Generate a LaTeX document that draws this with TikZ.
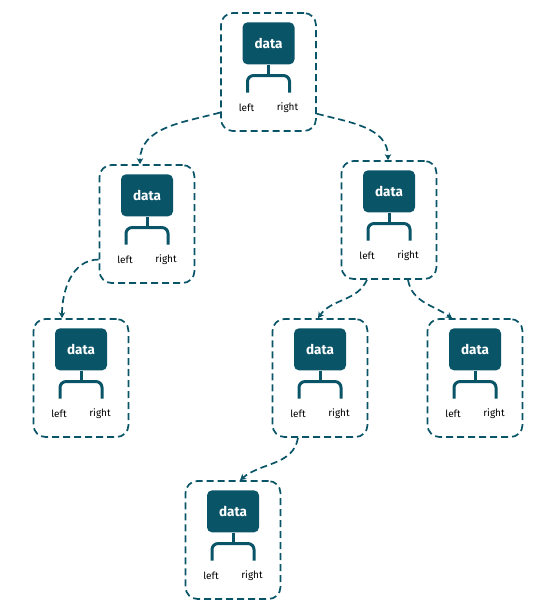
\documentclass[tikz,border=0pt]{standalone}
\usepackage{fontspec}
\setmainfont{Fira Sans}
\usetikzlibrary{calc, arrows.meta, positioning}
\definecolor{treeteal}{RGB}{10,84,104}

\tikzset{
    cell/.style={draw=treeteal, line width=1.7pt, dash pattern=on 7pt off 4pt,
        rounded corners=12pt, minimum width=95pt, minimum height=118pt},
    databox/.style={fill=treeteal, rounded corners=5pt, minimum width=52pt,
        minimum height=42pt, text=white, font=\fontsize{13.5}{15}\selectfont\bfseries},
    ptr/.style={font=\fontsize{10}{12}\selectfont, inner sep=1pt},
    fork/.style={draw=treeteal, line width=3pt, rounded corners=6pt},
    link/.style={draw=treeteal, line width=1.7pt, dash pattern=on 7pt off 4pt,
        -{Stealth[length=6pt,width=6.5pt]}},
}

\begin{document}
\begin{tikzpicture}[x=1pt,y=1pt]
    \useasboundingbox (0,0) rectangle (550,-615);

    \foreach \n/\x/\y in
    {root/268.5/72, a/147/224, b/389/220, aa/81/378, ba/320/378, bb/475/378, baa/233/540}
    {
        \node[cell] (\n) at (\x,-\y) {};
        \node[databox, below=10pt of \n.north] (\n-data) {data};
        \draw[fork] (\n-data.south) -- ++(0,-11) coordinate (\n-fork);
        \draw[fork] ($(\n-fork)+(-21,-17)$) |- ($(\n-fork)+(21,0)$) -- ++(0,-17);
        \node[ptr] (\n-l) at ($(\n-fork)+(-22,-32)$) {left};
        \node[ptr] (\n-r) at ($(\n-fork)+(19,-32)$) {right};
    };

    % pointers
    \draw[link] (root.west |- root-l.south) to[out=195,in=90] ($(a.north)+(-7,0)$);
    \draw[link] (root.east |- root-r.south) to[out=-15,in=90] ($(b.north)+(-1,0)$);
    \draw[link] (a.west |- a-l) to[out=180,in=90] ($(aa.north)+(-19,0)$);
    \draw[link] (b-l |- b.south) to[out=-115,in=55] ($(ba.north)+(-2,0)$);
    \draw[link] (b-r |- b.south) to[out=-80,in=145] ($(bb.north)+(-23,0)$);
    \draw[link] (ba-l |- ba.south) to[out=-100,in=40] ($(baa.north)+(7,0)$);
\end{tikzpicture}
\end{document}
